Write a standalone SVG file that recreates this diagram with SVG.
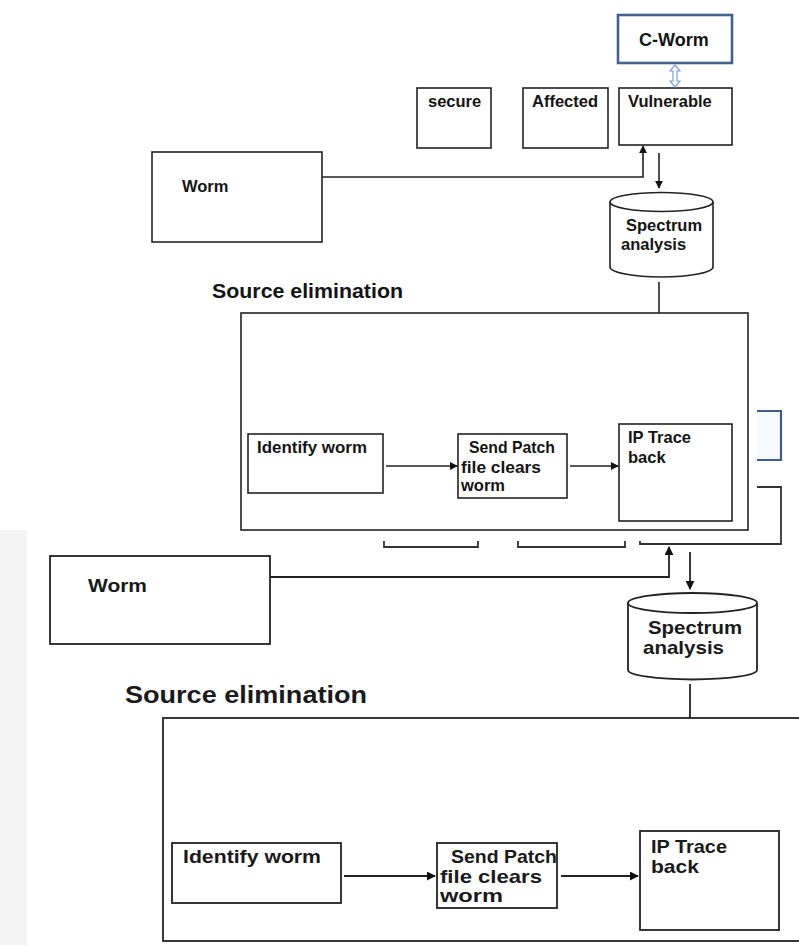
<svg xmlns="http://www.w3.org/2000/svg" width="799" height="945" viewBox="0 0 799 945">
<defs>
<style>
.box{fill:#fff;stroke:#222;stroke-width:1.6}
.box2{fill:#fff;stroke:#222;stroke-width:1.8}
.frame{fill:none;stroke:#222;stroke-width:1.6}
.frame2{fill:none;stroke:#222;stroke-width:1.8}
.t{font-family:"Liberation Sans",Arial,sans-serif;font-weight:bold;fill:#141414;font-size:16.5px}
.tb{font-family:"Liberation Sans",Arial,sans-serif;font-weight:bold;fill:#1a1a1a;font-size:18.5px}
.ln{fill:none;stroke:#222;stroke-width:1.6}
.ln2{fill:none;stroke:#222;stroke-width:1.8}
.ghost{fill:none;stroke:#333;stroke-width:1.8}
</style>
<marker id="ah" viewBox="0 0 10 10" refX="9" refY="5" markerWidth="8" markerHeight="8" markerUnits="userSpaceOnUse" orient="auto">
<path d="M0,0 L10,5 L0,10 z" fill="#111"/>
</marker>
<marker id="ah2" viewBox="0 0 10 10" refX="9" refY="5" markerWidth="9" markerHeight="9" markerUnits="userSpaceOnUse" orient="auto">
<path d="M0,0 L10,5 L0,10 z" fill="#111"/>
</marker>
</defs>
<rect width="799" height="945" fill="#fff"/>
<rect x="0" y="530" width="27" height="415" fill="#f4f4f4"/>

<g id="ghosts">
<rect x="757" y="411" width="24" height="49" fill="#f6f9fd"/>
<path d="M757,411 H781 V460 H757" fill="none" stroke="#3f5c82" stroke-width="2.2"/>
<path d="M757,487 H781 V544 H640 V541" class="ghost"/>
<path d="M384,541 V547 H478 V541" class="ghost"/>
<path d="M518,541 V547 H625 V541" class="ghost"/>
</g>

<g id="cworm">
<rect x="618" y="15" width="114" height="48" fill="#fff" stroke="#41618f" stroke-width="2.6"/>
<text x="639" y="46" class="t" style="font-size:18px">C-Worm</text>
</g>
<g id="secure">
<rect x="417" y="88" width="74" height="60" class="box"/>
<text x="428" y="107" class="t">secure</text>
</g>
<g id="affected">
<rect x="523" y="88" width="85" height="60" class="box"/>
<text x="532" y="107" class="t">Affected</text>
</g>
<g id="vulnerable">
<rect x="619" y="88" width="113" height="57" class="box"/>
<text x="628" y="107" class="t">Vulnerable</text>
</g>
<g id="worm1">
<rect x="152" y="152" width="170" height="90" class="box"/>
<text x="182" y="192" class="t">Worm</text>
</g>
<g id="spectrum1">
<path d="M610,202 V267 A51.5,10 0 0 0 713,267 V202" fill="#fff" stroke="#222" stroke-width="1.6"/>
<ellipse cx="661.5" cy="202" rx="51.5" ry="9.5" fill="#fff" stroke="#222" stroke-width="1.6"/>
<text x="626" y="231" class="t">Spectrum</text>
<text x="621" y="250" class="t">analysis</text>
</g>

<g id="source1">
<text x="212" y="298" class="t" style="font-size:20px" textLength="191" lengthAdjust="spacingAndGlyphs">Source elimination</text>
<rect x="241" y="313" width="507" height="217" class="frame"/>
</g>
<g id="identify1">
<rect x="248" y="434" width="135" height="59" class="box"/>
<text x="257" y="453" class="t" textLength="110" lengthAdjust="spacingAndGlyphs">Identify worm</text>
</g>
<g id="patch1">
<rect x="458" y="434" width="109" height="64" class="box"/>
<text x="469" y="453" class="t" textLength="86" lengthAdjust="spacingAndGlyphs">Send Patch</text>
<text x="461" y="473" class="t" textLength="80" lengthAdjust="spacingAndGlyphs">file clears</text>
<text x="461" y="491" class="t">worm</text>
</g>
<g id="trace1">
<rect x="619" y="424" width="113" height="97" class="box"/>
<text x="628" y="443" class="t">IP Trace</text>
<text x="628" y="463" class="t">back</text>
</g>

<g id="worm2">
<rect x="50" y="556" width="220" height="88" class="box2"/>
<text x="88" y="592" class="tb" textLength="59" lengthAdjust="spacingAndGlyphs">Worm</text>
</g>
<g id="spectrum2">
<path d="M628,603 V670 A64.5,9.5 0 0 0 757,670 V603" fill="#fff" stroke="#222" stroke-width="1.8"/>
<ellipse cx="692.5" cy="603" rx="64.5" ry="10" fill="#fff" stroke="#222" stroke-width="1.8"/>
<text x="648" y="634" class="tb" textLength="94" lengthAdjust="spacingAndGlyphs">Spectrum</text>
<text x="643" y="654" class="tb" textLength="81" lengthAdjust="spacingAndGlyphs">analysis</text>
</g>

<g id="source2">
<text x="125" y="703" class="tb" style="font-size:23px" textLength="242" lengthAdjust="spacingAndGlyphs">Source elimination</text>
<rect x="163" y="718" width="700" height="223" class="frame2"/>
</g>
<g id="identify2">
<rect x="172" y="843" width="169" height="60" class="box2"/>
<text x="183" y="863" class="tb" textLength="138" lengthAdjust="spacingAndGlyphs">Identify worm</text>
</g>
<g id="patch2">
<rect x="437" y="843" width="120" height="65" class="box2"/>
<text x="451" y="863" class="tb" textLength="106" lengthAdjust="spacingAndGlyphs">Send Patch</text>
<text x="440" y="883" class="tb" textLength="102" lengthAdjust="spacingAndGlyphs">file clears</text>
<text x="440" y="902" class="tb" textLength="63" lengthAdjust="spacingAndGlyphs">worm</text>
</g>
<g id="trace2">
<rect x="640" y="831" width="139" height="99" class="box2"/>
<text x="651" y="853" class="tb" textLength="76" lengthAdjust="spacingAndGlyphs">IP Trace</text>
<text x="651" y="873" class="tb" textLength="48" lengthAdjust="spacingAndGlyphs">back</text>
</g>

<g id="connectors">
<path d="M675,65 L680,71 L677,71 L677,81 L680,81 L675,87 L670,81 L673,81 L673,71 L670,71 Z" fill="#fff" stroke="#7fa3d4" stroke-width="1.2"/>
<path d="M322,177 H643 V146" class="ln" marker-end="url(#ah)"/>
<path d="M659,153 V188" class="ln" marker-end="url(#ah)"/>
<path d="M659,282 V313" class="ln"/>
<path d="M386,466 H457" class="ln" marker-end="url(#ah)"/>
<path d="M570,466 H618" class="ln" marker-end="url(#ah)"/>
<path d="M270,577 H669 V547" class="ln2" marker-end="url(#ah2)"/>
<path d="M690,552 V589" class="ln2" marker-end="url(#ah2)"/>
<path d="M690,684 V718" class="ln2"/>
<path d="M344,876 H435" class="ln2" marker-end="url(#ah2)"/>
<path d="M561,876 H638" class="ln2" marker-end="url(#ah2)"/>
</g>
</svg>
